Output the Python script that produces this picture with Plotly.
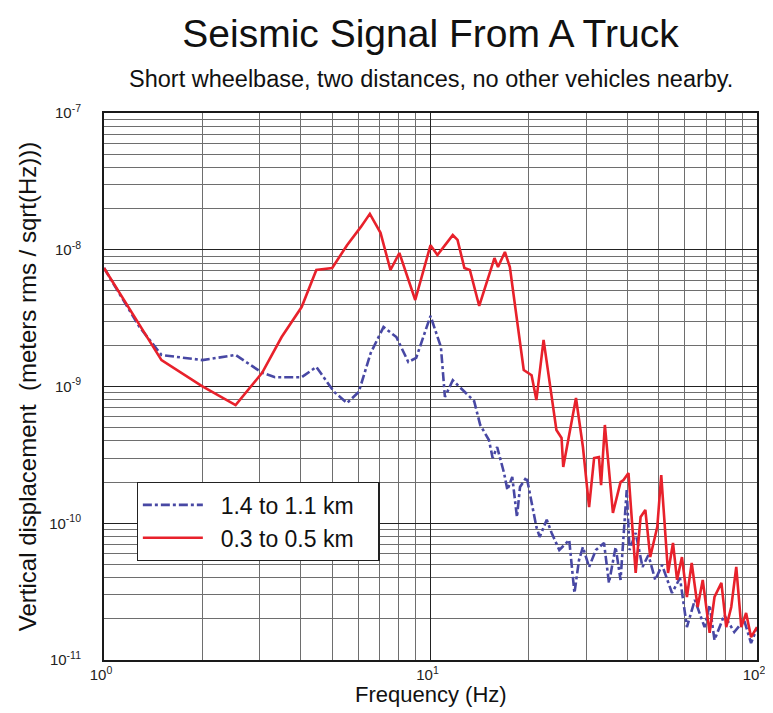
import plotly.graph_objects as go

# ---- data (frequency in Hz, displacement in m rms / sqrt(Hz))
freq_far = [1.0, 1.285, 1.50, 2.0, 2.53, 3.05, 3.34, 4.03, 4.47, 5.07, 5.55, 6.03,
            6.56, 7.18, 7.86, 8.55, 9.04, 10.0, 10.76, 11.07, 11.7, 13.6, 14.2, 15.1,
            15.5, 16.0, 16.8, 17.2, 17.8, 18.4, 18.8, 19.7, 21.1, 21.6, 22.7, 23.5,
            24.8, 26.6, 27.6, 28.5, 29.3, 30.6, 32.1, 34.0, 35.2, 36.9, 38.2, 39.9,
            40.7, 42.5, 44.6, 46.5, 48.8, 51.2, 54.9, 58.1, 61.0, 64.5, 69.1, 71.6,
            74.1, 79.4, 85.2, 91.3, 95.9, 100.0]
disp_far = [7.35e-9, 2.72e-9, 1.70e-9, 1.56e-9, 1.70e-9, 1.26e-9, 1.17e-9, 1.17e-9,
            1.39e-9, 9.12e-10, 7.57e-10, 9.12e-10, 1.76e-9, 2.72e-9, 2.30e-9, 1.51e-9,
            1.62e-9, 3.28e-9, 1.95e-9, 8.38e-10, 1.11e-9, 7.83e-10, 5.23e-10, 4.06e-10,
            3.0e-10, 3.61e-10, 2.33e-10, 1.75e-10, 2.18e-10, 1.11e-10, 1.84e-10, 2.18e-10,
            9.4e-11, 7.94e-11, 1.06e-10, 8.49e-11, 6.37e-11, 7.54e-11, 3.09e-11, 5.38e-11,
            6.7e-11, 4.79e-11, 6.37e-11, 7.18e-11, 3.66e-11, 6.7e-11, 3.85e-11, 1.75e-10,
            6.37e-11, 8.49e-11, 4.79e-11, 5.86e-11, 3.85e-11, 4.95e-11, 3.09e-11, 3.98e-11,
            1.74e-11, 2.75e-11, 1.74e-11, 2.52e-11, 1.40e-11, 2.13e-11, 1.60e-11, 1.96e-11,
            1.33e-11, 1.71e-11]

freq_near = [1.0, 1.50, 1.99, 2.53, 3.05, 3.50, 4.03, 4.47, 5.00, 5.55, 6.12, 6.52,
             7.03, 7.54, 8.03, 8.98, 10.0, 10.5, 11.7, 12.1, 12.7, 13.2, 14.1, 15.7,
             16.1, 16.9, 17.5, 19.3, 20.4, 21.1, 22.2, 24.3, 25.2, 25.5, 27.9, 29.3,
             30.6, 31.7, 32.8, 33.3, 34.2, 36.2, 38.2, 39.0, 40.4, 42.5, 44.0, 45.5,
             47.1, 49.5, 50.9, 52.3, 53.4, 55.3, 56.9, 58.9, 61.0, 63.1, 65.8, 68.2,
             71.6, 74.1, 77.8, 80.5, 83.4, 86.4, 89.5, 92.6, 95.9, 100.0]
disp_near = [7.35e-9, 1.56e-9, 1.01e-9, 7.3e-10, 1.26e-9, 2.30e-9, 3.81e-9, 7.11e-9,
             7.35e-9, 1.08e-8, 1.47e-8, 1.83e-8, 1.33e-8, 7.11e-9, 9.47e-9, 4.29e-9,
             1.08e-8, 9.16e-9, 1.28e-8, 1.18e-8, 7.35e-9, 7.11e-9, 3.88e-9, 8.7e-9,
             7.48e-9, 9.63e-9, 7.48e-9, 1.32e-9, 1.21e-9, 7.96e-10, 2.19e-9, 4.81e-10,
             4.20e-10, 2.58e-10, 8.24e-10, 3.61e-10, 1.31e-10, 3.0e-10, 3.05e-10, 1.9e-10,
             5.23e-10, 1.19e-10, 2.0e-10, 2.07e-10, 2.33e-10, 4.33e-11, 1.11e-10, 1.25e-10,
             5.66e-11, 9.4e-11, 2.25e-10, 8.49e-11, 4.33e-11, 7.18e-11, 3.85e-11, 5.66e-11,
             2.89e-11, 5.12e-11, 2.44e-11, 3.85e-11, 1.58e-11, 2.89e-11, 3.66e-11, 1.74e-11,
             2.44e-11, 4.79e-11, 1.74e-11, 2.21e-11, 1.47e-11, 1.74e-11]

x_ticks = [1, 10, 100]
x_ticktext = ["10<sup>0</sup>", "10<sup>1</sup>", "10<sup>2</sup>"]
y_ticks = [1e-11, 1e-10, 1e-9, 1e-8, 1e-7]
y_ticktext = ["10<sup>-11</sup>", "10<sup>-10</sup>", "10<sup>-9</sup>",
              "10<sup>-8</sup>", "10<sup>-7</sup>"]

FONT = "Liberation Sans, Arial, Helvetica, sans-serif"
NB = "\u00a0"

fig = go.Figure()

fig.add_trace(go.Scatter(
    x=freq_far, y=disp_far, mode="lines", name=NB * 2 + "1.4 to 1.1 km" + NB * 3,
    line=dict(color="#4848a4", width=2.6, dash="dashdot"),
))
fig.add_trace(go.Scatter(
    x=freq_near, y=disp_near, mode="lines", name=NB * 2 + "0.3 to 0.5 km" + NB * 3,
    line=dict(color="#e8212b", width=2.6),
))

axis_common = dict(
    type="log",
    showline=True, linecolor="#1a1a1a", linewidth=2, mirror=True,
    showgrid=True, gridcolor="#222", gridwidth=1.2,
    ticks="", zeroline=False,
    tickfont=dict(family=FONT, size=15, color="#222"),
    minor=dict(showgrid=True, gridcolor="#6e6e6e", gridwidth=1, dtick="D1"),
)

fig.update_xaxes(
    **axis_common, range=[0, 2],
    tickvals=x_ticks, ticktext=x_ticktext, ticklabelstandoff=0, ticklabelshift=-3,
)
fig.update_yaxes(
    **axis_common, range=[-11, -7],
    tickvals=y_ticks, ticktext=y_ticktext, ticklabelstandoff=18,
    title=dict(text="Vertical displacement  (meters rms / sqrt(Hz)))",
               font=dict(family=FONT, size=24, color="#111"), standoff=6),
)

# the page body adds an 8 px margin, so the figure is sized to fit inside it
fig.update_layout(
    width=767, height=705,
    margin=dict(l=96, r=10, t=105, b=53),
    paper_bgcolor="white", plot_bgcolor="white",
    font=dict(family=FONT, color="#111"),
    title=dict(text="Seismic Signal From A Truck", x=0.5, xref="paper",
               y=1 - 25 / 705, yanchor="middle",
               font=dict(family=FONT, size=39, color="#111")),
    showlegend=True,
    legend=dict(x=0.05, y=0.325, xanchor="left", yanchor="top",
                bgcolor="white", bordercolor="#222", borderwidth=1.2,
                font=dict(family=FONT, size=23, color="#111"),
                itemwidth=60, tracegroupgap=0),
    annotations=[
        dict(text="Short wheelbase, two distances, no other vehicles nearby.",
             xref="paper", yref="paper", x=0.5, y=1 + 34 / 547,
             xanchor="center", yanchor="middle", showarrow=False,
             font=dict(family=FONT, size=23.5, color="#111")),
        dict(text="Frequency (Hz)",
             xref="paper", yref="paper", x=0.5, y=-34 / 547,
             xanchor="center", yanchor="middle", showarrow=False,
             font=dict(family=FONT, size=22, color="#111")),
    ],
)

fig.write_html("out.html")
